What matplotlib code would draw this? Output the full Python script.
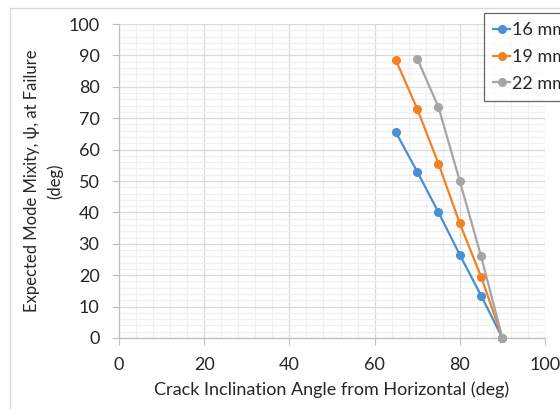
import matplotlib.pyplot as plt
from matplotlib.patches import Rectangle
from matplotlib.ticker import MultipleLocator

plt.rcParams['font.family'] = ['Lato', 'DejaVu Sans']

# crack inclination angle (deg) and expected mode mixity at failure (deg)
angle_16 = [65, 70, 75, 80, 85, 90]
psi_16 = [65.5, 53, 40, 26.5, 13.5, 0]
angle_19 = [65, 70, 75, 80, 85, 90]
psi_19 = [88.5, 73, 55.5, 36.5, 19.5, 0]
angle_22 = [70, 75, 80, 85, 90]
psi_22 = [89, 73.5, 50, 26, 0]

labels = ['16 mm', '19 mm', '22 mm']
colors = ['#4a8fd4', '#f28124', '#a5a5a5']

fig = plt.figure(figsize=(5.6, 4.09), dpi=100)
ax = fig.add_axes([0.2125, 0.1736, 0.7607, 0.7677])

# light chart-area border
fig.patches.append(Rectangle((10 / 560, -0.02), 1.1, 1 - 8 / 409 + 0.02,
                             transform=fig.transFigure, fill=False,
                             edgecolor='#d9d9d9', lw=1, zorder=0))

for x, y, lab, c in zip([angle_16, angle_19, angle_22],
                        [psi_16, psi_19, psi_22], labels, colors):
    ax.plot(x, y, marker='o', markersize=5.5, color=c, lw=1.6, label=lab,
            clip_on=False, zorder=3)

ax.set_xlim(0, 100)
ax.set_ylim(0, 100)
ax.xaxis.set_major_locator(MultipleLocator(20))
ax.xaxis.set_minor_locator(MultipleLocator(4))
ax.yaxis.set_major_locator(MultipleLocator(10))
ax.yaxis.set_minor_locator(MultipleLocator(2))

ax.grid(which='major', color='#d9d9d9', lw=0.9)
ax.grid(which='minor', color='#f0f0f0', lw=0.9)
ax.set_axisbelow(True)

for s in ['top', 'right']:
    ax.spines[s].set_visible(False)
for s in ['left', 'bottom']:
    ax.spines[s].set_color('#bfbfbf')
    ax.spines[s].set_linewidth(0.9)

ax.tick_params(which='major', direction='out', length=5, color='#bfbfbf',
               labelsize=13, labelcolor='#262626', pad=9)
ax.tick_params(which='minor', length=0)

ax.set_xlabel('Crack Inclination Angle from Horizontal (deg)', fontsize=13,
              color='#262626', labelpad=6)
ax.set_ylabel('Expected Mode Mixity, ψ, at Failure\n(deg)', fontsize=12,
              color='#262626', labelpad=4, linespacing=1.45)

leg = ax.legend(loc='upper left', bbox_to_anchor=(484 / 560, 1 - 13 / 409),
                bbox_transform=fig.transFigure, fontsize=13, frameon=True,
                fancybox=False, handlelength=0.95, handletextpad=0.08,
                borderpad=0.5, borderaxespad=0, labelspacing=0.6)
leg._legend_box.align = 'left'
leg.get_frame().set_edgecolor('#404040')
leg.get_frame().set_linewidth(0.9)
for t in leg.get_texts():
    t.set_color('#262626')

fig.savefig('out.png', dpi=100)
